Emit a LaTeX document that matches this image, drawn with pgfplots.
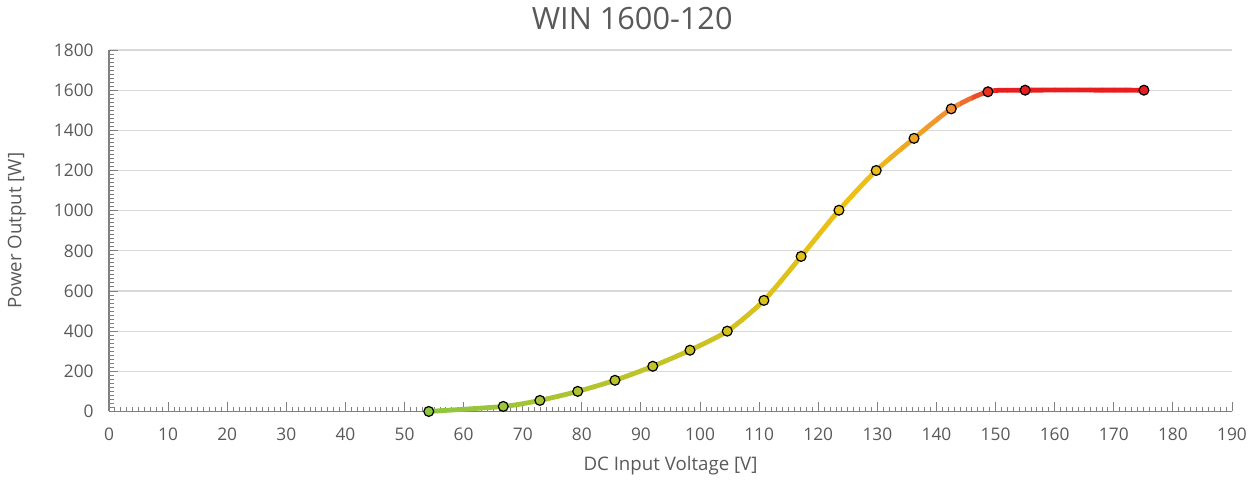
\documentclass[border=0pt]{standalone}
\usepackage{pgfplots}
\pgfplotsset{compat=1.18}
\usepackage{pgfplotstable}
\usepackage{fontspec}
\setmainfont{Open Sans}
\definecolor{txt}{RGB}{89,89,89}
\definecolor{axc}{RGB}{128,128,128}
\definecolor{gridc}{RGB}{217,217,217}
\definecolor{cG}{RGB}{141,198,63}
\definecolor{cY}{RGB}{238,192,20}
\definecolor{cO}{RGB}{240,140,50}
\definecolor{cR}{RGB}{232,30,30}

\pgfplotstableread{
x y
54.1 0
66.7 25
72.9 55
79.3 100
85.6 155
92.0 225
98.3 305
104.6 400
110.8 553
117.1 772
123.5 1002
129.8 1200
136.2 1360
142.5 1507
148.7 1592
155.0 1600
175.1 1600
}\powerdata

% band colours along x (gradient of the curve)
\foreach \i in {0,...,63}{%
  \pgfmathsetmacro{\m}{51+2*\i}%
  \pgfmathsetmacro{\pA}{max(0,min(100,(\m-54)/71*100))}%
  \pgfmathsetmacro{\pB}{max(0,min(100,(\m-128)/15*100))}%
  \pgfmathsetmacro{\pC}{max(0,min(100,(\m-143)/7*100))}%
  \colorlet{tmpa}{cY!\pA!cG}%
  \colorlet{tmpb}{cO!\pB!tmpa}%
  \xglobal\colorlet{band\i}{cR!\pC!tmpb}%
}

\begin{document}
\begin{tikzpicture}
\begin{axis}[
  scale only axis, width=842pt, height=271pt,
  xmin=0, xmax=190, ymin=0, ymax=1800,
  axis lines=left,
  axis line style={-, draw=axc, line width=0.8pt},
  xtick={0,10,...,190}, ytick={0,200,...,1800},
  minor x tick num=9, minor y tick num=9,
  tick style={draw=axc, line width=0.7pt},
  major tick length=7pt, minor tick length=3.5pt,
  tick align=inside,
  ymajorgrids,
  major grid style={draw=gridc, line width=0.9pt},
  ticklabel style={font=\fontsize{13}{15}\selectfont, text=txt},
  yticklabel style={xshift=-8pt},
  xticklabel style={yshift=-9pt},
  /pgf/number format/assume math mode=true,
  /pgf/number format/set thousands separator={},
  xlabel={DC Input Voltage [V]},
  ylabel={Power Output [W]},
  label style={font=\fontsize{14}{16}\selectfont, text=txt},
  xlabel style={at={(axis description cs:0.5,0)}, anchor=center, yshift=-41pt},
  ylabel style={at={(axis description cs:-0.082,0.5)}, anchor=center},
  colormap={win}{rgb255(54cm)=(141,198,63); rgb255(125cm)=(238,192,20); rgb255(128cm)=(238,192,20); rgb255(143cm)=(240,140,50); rgb255(150cm)=(232,30,30); rgb255(176cm)=(232,30,30)},
  point meta min=54, point meta max=176,
  clip=false,
]
\pgfplotsinvokeforeach{0,...,63}{
  \begin{scope}
    \clip (axis cs:{50+2*#1},-200) rectangle (axis cs:{52.1+2*#1},2000);
    \addplot[smooth, tension=0.45, draw=band#1, line width=3.6pt, line cap=round, forget plot] table {\powerdata};
  \end{scope}
}
\addplot[scatter, only marks, point meta=x, mark=*, mark size=3.7pt,
  scatter/use mapped color={draw=black, fill=mapped color, line width=0.9pt}] table {\powerdata};
\end{axis}
\pgfresetboundingbox
\path (current axis.south west) ++(-81.75pt,-56.25pt) coordinate (bl);
\path (current axis.north east) ++(18.75pt,37.5pt) coordinate (tr);
\path[use as bounding box] (bl) rectangle (tr);
\node[font=\fontsize{23}{26}\selectfont, text=txt] at ([shift={(474pt,351pt)}]bl) {WIN 1600-120};
\end{tikzpicture}
\end{document}
